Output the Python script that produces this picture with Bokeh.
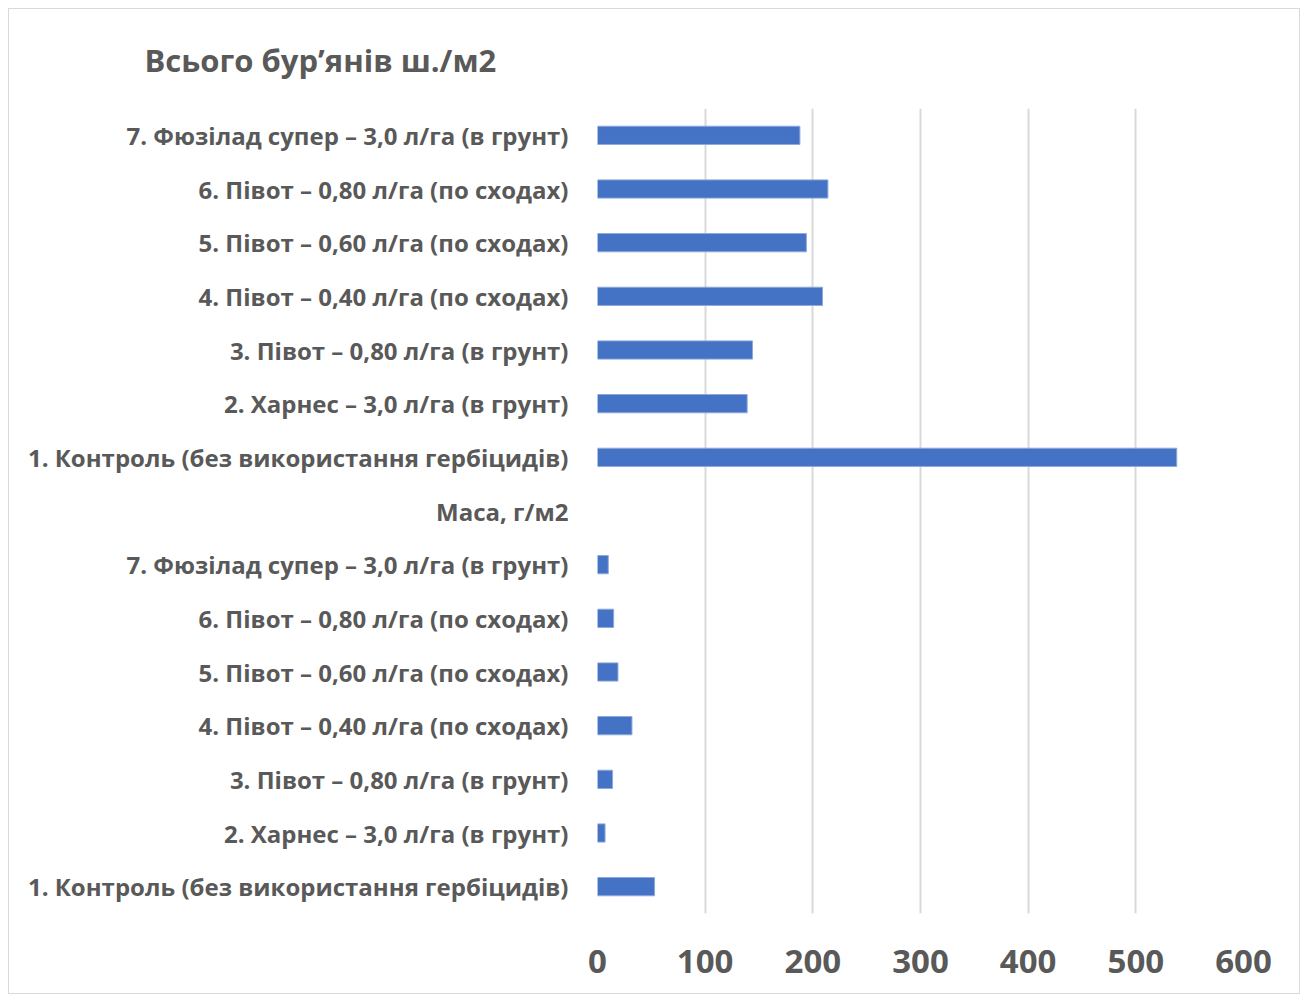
from bokeh.plotting import figure
from bokeh.models import Range1d, FixedTicker, ColumnDataSource
from bokeh.embed import file_html
from bokeh.resources import INLINE

treatments = [
    "1. Контроль (без використання гербіцидів)",
    "2. Харнес – 3,0 л/га (в грунт)",
    "3. Півот – 0,80 л/га (в грунт)",
    "4. Півот – 0,40 л/га (по сходах)",
    "5. Півот – 0,60 л/га (по сходах)",
    "6. Півот – 0,80 л/га (по сходах)",
    "7. Фюзілад супер – 3,0 л/га (в грунт)",
]
mass_label = "Маса, г/м2"
title_text = "Всього бур’янів ш./м2"
mass_values = [53, 7, 14, 32, 19, 15, 10]
total_values = [538, 139, 144, 209, 194, 214, 188]
x_ticks = [0, 100, 200, 300, 400, 500, 600]

# bottom-to-top order of rows
labels = treatments + [mass_label] + treatments
values = mass_values + [None] + total_values

ys = [i for i, v in enumerate(values) if v is not None]
xs = [v for v in values if v is not None]
src = ColumnDataSource(dict(y=ys, right=xs))

TEXT = "#595959"
FONT = "Open Sans"

p = figure(width=1292, height=986, output_backend="svg", toolbar_location=None,
           x_range=Range1d(0, 600), y_range=Range1d(-0.5, len(labels) - 0.5),
           min_border_left=588, min_border_right=58, min_border_top=99,
           min_border_bottom=82, title=title_text)
p.outline_line_color = None
p.background_fill_color = "white"
p.border_fill_color = "white"
p.styles = {"border": "1.5px solid #d9d9d9", "box-sizing": "border-box",
            "margin-left": "8px", "margin-top": "8px"}

p.title.align = "left"
p.title.offset = -453
p.title.standoff = 55
p.title.text_font = FONT
p.title.text_font_size = "31px"
p.title.text_font_style = "bold"
p.title.text_color = TEXT

p.hbar(y="y", right="right", left=0, height=0.34, source=src,
       fill_color="#4472C4", line_color="#8EA9DB", line_width=1)

p.xaxis.ticker = FixedTicker(ticks=x_ticks)
p.xaxis.axis_line_color = None
p.xaxis.major_tick_line_color = None
p.xaxis.minor_tick_line_color = None
p.xaxis.major_label_text_font = FONT
p.xaxis.major_label_text_font_size = "33px"
p.xaxis.major_label_text_font_style = "bold"
p.xaxis.major_label_text_color = TEXT
p.xaxis.major_label_standoff = 30

p.yaxis.ticker = FixedTicker(ticks=list(range(len(labels))))
p.yaxis.major_label_overrides = {i: t for i, t in enumerate(labels)}
p.yaxis.axis_line_color = None
p.yaxis.major_tick_line_color = None
p.yaxis.minor_tick_line_color = None
p.yaxis.major_label_text_font = FONT
p.yaxis.major_label_text_font_size = "24px"
p.yaxis.major_label_text_font_style = "bold"
p.yaxis.major_label_text_color = TEXT
p.yaxis.major_label_standoff = 23

p.xgrid.grid_line_color = "#d9d9d9"
p.xgrid.grid_line_width = 2
p.ygrid.grid_line_color = None

open("out.html", "w").write(file_html(p, INLINE))
